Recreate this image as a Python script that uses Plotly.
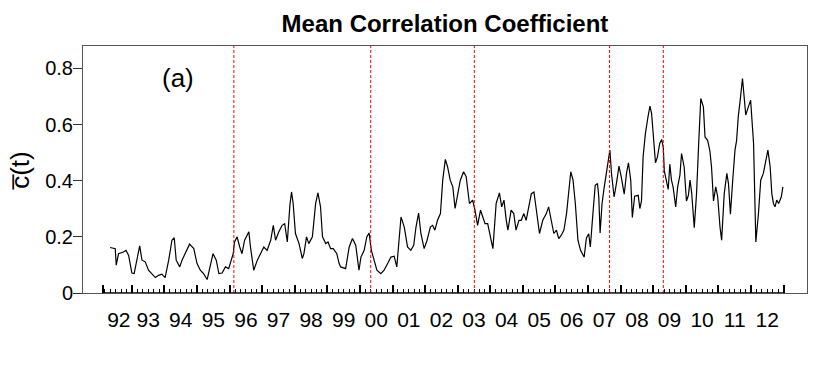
import plotly.graph_objects as go

# ---- data ----
years = [1992.33, 1992.49, 1992.52, 1992.59, 1992.74, 1992.82, 1992.90, 1992.95, 1993.00, 1993.07,
         1993.24, 1993.31, 1993.41, 1993.51, 1993.61, 1993.72, 1993.82, 1993.92, 1994.02, 1994.13,
         1994.23, 1994.30, 1994.36, 1994.47, 1994.54, 1994.64, 1994.77, 1994.90, 1995.00, 1995.10,
         1995.20, 1995.31, 1995.41, 1995.49, 1995.59, 1995.67, 1995.77, 1995.87, 1995.97, 1996.03,
         1996.11, 1996.15, 1996.23, 1996.31, 1996.38, 1996.46, 1996.59, 1996.64, 1996.74, 1996.85,
         1996.95, 1997.05, 1997.15, 1997.26, 1997.34, 1997.41, 1997.51, 1997.61, 1997.69, 1997.77,
         1997.85, 1997.90, 1997.95, 1998.02, 1998.13, 1998.23, 1998.28, 1998.36, 1998.43, 1998.54,
         1998.64, 1998.71, 1998.79, 1998.85, 1998.95, 1999.02, 1999.10, 1999.18, 1999.29, 1999.36,
         1999.41, 1999.56, 1999.67, 1999.77, 1999.87, 1999.97, 2000.03, 2000.13, 2000.21, 2000.28,
         2000.35, 2000.44, 2000.52, 2000.64, 2000.74, 2000.85, 2000.95, 2001.05, 2001.13, 2001.26,
         2001.36, 2001.46, 2001.56, 2001.65, 2001.72, 2001.80, 2001.87, 2001.97, 2002.06, 2002.16,
         2002.23, 2002.30, 2002.38, 2002.47, 2002.54, 2002.62, 2002.69, 2002.77, 2002.85, 2002.92,
         2003.00, 2003.08, 2003.18, 2003.26, 2003.31, 2003.36, 2003.46, 2003.53, 2003.61, 2003.70,
         2003.77, 2003.84, 2003.92, 2004.01, 2004.08, 2004.18, 2004.28, 2004.35, 2004.42, 2004.49,
         2004.54, 2004.64, 2004.72, 2004.79, 2004.88, 2004.95, 2005.03, 2005.10, 2005.17, 2005.26,
         2005.34, 2005.41, 2005.51, 2005.61, 2005.72, 2005.79, 2005.87, 2005.95, 2006.03, 2006.10,
         2006.18, 2006.26, 2006.34, 2006.41, 2006.47, 2006.54, 2006.61, 2006.69, 2006.77, 2006.88,
         2006.95, 2007.02, 2007.07, 2007.15, 2007.22, 2007.29, 2007.33, 2007.37, 2007.43, 2007.49,
         2007.56, 2007.61, 2007.67, 2007.72, 2007.80, 2007.87, 2007.95, 2008.02, 2008.11, 2008.18,
         2008.24, 2008.31, 2008.36, 2008.43, 2008.54, 2008.59, 2008.64, 2008.69, 2008.76, 2008.84,
         2008.90, 2008.95, 2009.00, 2009.07, 2009.13, 2009.20, 2009.26, 2009.31, 2009.34, 2009.41,
         2009.46, 2009.51, 2009.56, 2009.61, 2009.69, 2009.75, 2009.82, 2009.87, 2009.95, 2010.02,
         2010.08, 2010.13, 2010.18, 2010.26, 2010.33, 2010.40, 2010.46, 2010.54, 2010.59, 2010.67,
         2010.74, 2010.79, 2010.85, 2010.92, 2010.98, 2011.05, 2011.10, 2011.18, 2011.26, 2011.31,
         2011.37, 2011.44, 2011.51, 2011.56, 2011.61, 2011.67, 2011.74, 2011.80, 2011.84, 2011.92,
         2011.99, 2012.08, 2012.15, 2012.23, 2012.30, 2012.38, 2012.44, 2012.52, 2012.59, 2012.64,
         2012.69, 2012.74, 2012.79, 2012.85, 2012.93, 2012.98]

mean_corr = [0.162, 0.158, 0.099, 0.140, 0.146, 0.152, 0.134, 0.105, 0.071, 0.069,
             0.168, 0.117, 0.111, 0.081, 0.069, 0.055, 0.063, 0.067, 0.055, 0.117,
             0.188, 0.197, 0.117, 0.093, 0.117, 0.140, 0.174, 0.158, 0.105, 0.081,
             0.069, 0.048, 0.105, 0.140, 0.117, 0.069, 0.071, 0.093, 0.087, 0.111,
             0.140, 0.182, 0.200, 0.164, 0.140, 0.188, 0.218, 0.164, 0.081, 0.117,
             0.140, 0.164, 0.152, 0.188, 0.241, 0.188, 0.218, 0.241, 0.247, 0.182,
             0.313, 0.360, 0.319, 0.212, 0.176, 0.123, 0.140, 0.200, 0.176, 0.200,
             0.319, 0.357, 0.307, 0.200, 0.176, 0.182, 0.158, 0.158, 0.140, 0.105,
             0.093, 0.087, 0.164, 0.194, 0.170, 0.081, 0.128, 0.152, 0.200, 0.214,
             0.152, 0.117, 0.081, 0.069, 0.081, 0.105, 0.128, 0.131, 0.093, 0.271,
             0.235, 0.164, 0.152, 0.170, 0.235, 0.285, 0.212, 0.158, 0.188, 0.235,
             0.241, 0.224, 0.259, 0.283, 0.402, 0.476, 0.449, 0.402, 0.378, 0.301,
             0.354, 0.402, 0.432, 0.414, 0.366, 0.319, 0.331, 0.295, 0.241, 0.295,
             0.271, 0.247, 0.247, 0.200, 0.158, 0.319, 0.357, 0.307, 0.331, 0.259,
             0.224, 0.295, 0.283, 0.224, 0.259, 0.259, 0.283, 0.259, 0.307, 0.354,
             0.360, 0.295, 0.212, 0.259, 0.283, 0.307, 0.259, 0.212, 0.224, 0.194,
             0.206, 0.224, 0.283, 0.366, 0.432, 0.402, 0.319, 0.188, 0.152, 0.128,
             0.196, 0.211, 0.164, 0.283, 0.384, 0.390, 0.342, 0.214, 0.319, 0.372,
             0.426, 0.455, 0.509, 0.426, 0.342, 0.390, 0.452, 0.414, 0.352, 0.426,
             0.464, 0.402, 0.269, 0.345, 0.348, 0.301, 0.328, 0.485, 0.568, 0.628,
             0.666, 0.640, 0.556, 0.464, 0.485, 0.533, 0.547, 0.518, 0.435, 0.396,
             0.369, 0.459, 0.402, 0.378, 0.307, 0.378, 0.420, 0.497, 0.449, 0.328,
             0.348, 0.402, 0.357, 0.233, 0.354, 0.544, 0.693, 0.663, 0.556, 0.544,
             0.506, 0.449, 0.328, 0.378, 0.342, 0.235, 0.188, 0.354, 0.426, 0.390,
             0.281, 0.402, 0.509, 0.544, 0.628, 0.687, 0.764, 0.687, 0.634, 0.663,
             0.687, 0.533, 0.182, 0.283, 0.402, 0.426, 0.461, 0.509, 0.449, 0.354,
             0.319, 0.307, 0.331, 0.319, 0.342, 0.378]

event_years = [1996.13, 2000.33, 2003.51, 2007.66, 2009.31]

year_labels = ["92", "93", "94", "95", "96", "97", "98", "99", "00", "01", "02",
               "03", "04", "05", "06", "07", "08", "09", "10", "11", "12"]
label_pos = [1992.6] + [1993.5 + i for i in range(20)]

axis_start = 1992.11
axis_end = 2013.0
major_ticks = [axis_start] + [1993 + i for i in range(21)]
minor_ticks = [round(1992 + k / 6, 4) for k in range(1, 127)
               if axis_start < 1992 + k / 6 < axis_end and k % 6 != 0]

y_ticks = [0, 0.2, 0.4, 0.6, 0.8]
y_ticktext = ["0", "0.2", "0.4", "0.6", "0.8"]

x_range = [1991.50, 2013.72]
y_range = [0, 0.88]

FONT = "Liberation Sans, Arial, Helvetica, sans-serif"

fig = go.Figure()
fig.add_trace(go.Scatter(x=years, y=mean_corr, mode="lines",
                         line=dict(color="black", width=1.2),
                         showlegend=False, hoverinfo="skip"))
# invisible trace to carry the tick-mark axis
fig.add_trace(go.Scatter(x=[axis_start], y=[0], xaxis="x2", mode="markers",
                         marker=dict(opacity=0), showlegend=False, hoverinfo="skip"))

shapes = []
for ev in event_years:
    shapes.append(dict(type="line", xref="x", yref="paper", x0=ev, x1=ev, y0=0, y1=1,
                       line=dict(color="red", width=1, dash="3px,2px"), layer="above"))
# axis line spanning the tick range
shapes.append(dict(type="line", xref="x", yref="y", x0=axis_start, x1=axis_end, y0=0, y1=0,
                   line=dict(color="black", width=1.5), layer="above"))

# the page body adds an 8px offset, so the figure is 8px smaller than the window
fig.update_layout(
    width=822, height=361,
    margin=dict(l=75, r=23, t=38, b=76, autoexpand=False),
    paper_bgcolor="white", plot_bgcolor="white",
    font=dict(family=FONT, color="black"),
    title=dict(text="<b>Mean Correlation Coefficient</b>", x=0.5316, xanchor="center",
               y=0.9557, yanchor="middle", yref="container",
               font=dict(size=24, family=FONT, color="black")),
    xaxis=dict(range=x_range, showgrid=False, zeroline=False, automargin=False,
               showline=True, mirror=True, linecolor="#555", linewidth=1,
               tickmode="array", tickvals=label_pos, ticktext=year_labels,
               ticks="", tickfont=dict(size=21, family=FONT, color="black"),
               ticklabelstandoff=8),
    xaxis2=dict(range=x_range, overlaying="x", anchor="y", side="bottom", automargin=False,
                showgrid=False, zeroline=False, showline=False,
                tickmode="array", tickvals=major_ticks, ticks="inside",
                ticklen=8, tickwidth=1.5, tickcolor="black", showticklabels=False,
                minor=dict(tickmode="array", tickvals=minor_ticks, ticks="inside",
                           ticklen=4, tickwidth=1, tickcolor="black", showgrid=False)),
    yaxis=dict(range=y_range, showgrid=False, zeroline=False, automargin=False,
               showline=True, mirror=True, linecolor="#555", linewidth=1,
               tickmode="array", tickvals=y_ticks, ticktext=y_ticktext,
               ticks="outside", ticklen=9, tickwidth=1, tickcolor="#333",
               tickfont=dict(size=20, family=FONT, color="black"),
               ticklabelstandoff=-4),
    shapes=shapes,
    annotations=[
        dict(text="(a)", x=1994.41, y=0.765, xref="x", yref="y", showarrow=False,
             xanchor="center", yanchor="middle",
             font=dict(size=26, family=FONT, color="black")),
        dict(text="c\u0305(t)", x=-0.087, y=0.494, xref="paper", yref="paper",
             showarrow=False, textangle=-90, xanchor="center", yanchor="middle",
             font=dict(size=26, family=FONT, color="black")),
    ],
)

fig.write_html("out.html")
